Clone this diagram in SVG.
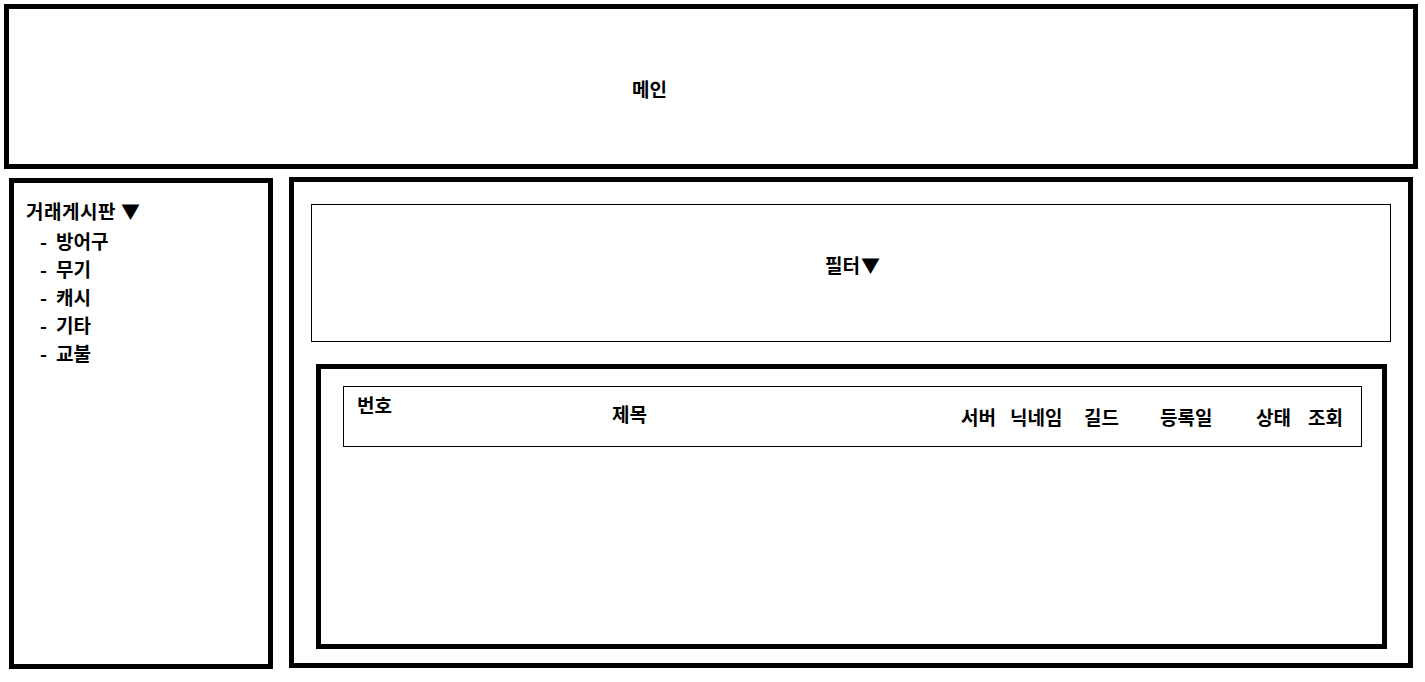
<svg xmlns="http://www.w3.org/2000/svg" width="1425" height="682" viewBox="0 0 1425 682">
<style>
.thick{fill:#fff;stroke:#000;stroke-width:5}
.thin{fill:#fff;stroke:#000;stroke-width:1}
text{font-family:"Noto Sans CJK KR","Liberation Sans",sans-serif;font-weight:bold;font-size:19px;fill:#000}
</style>
<rect width="1425" height="682" fill="#fff"/>
<g id="main-header">
<rect class="thick" x="6.5" y="6.5" width="1409" height="160"/>
<text x="632" y="97">메인</text>
</g>
<g id="sidebar">
<rect class="thick" x="11.5" y="180.5" width="259" height="486"/>
<text x="26" y="219" letter-spacing="0.5">거래게시판 <tspan x="121">▼</tspan></text>
<text x="40" y="249">- <tspan x="56">방어구</tspan></text>
<text x="40" y="277">- <tspan x="56">무기</tspan></text>
<text x="40" y="305">- <tspan x="56">캐시</tspan></text>
<text x="40" y="333">- <tspan x="56">기타</tspan></text>
<text x="40" y="361">- <tspan x="56">교불</tspan></text>
</g>
<g id="content">
<rect class="thick" x="291.5" y="179.5" width="1119" height="486"/>
</g>
<g id="filter">
<rect class="thin" x="311.5" y="204.5" width="1079" height="137"/>
<text x="825" y="273">필터<tspan x="861">▼</tspan></text>
</g>
<g id="list">
<rect class="thick" x="318.5" y="366.5" width="1066" height="280"/>
</g>
<g id="list-header">
<rect class="thin" x="343.5" y="386.5" width="1018" height="60"/>
<text x="357" y="413">번호</text>
<text x="612" y="422">제목</text>
<text x="961" y="425">서버</text>
<text x="1010" y="425">닉네임</text>
<text x="1084" y="425">길드</text>
<text x="1160" y="425">등록일</text>
<text x="1256" y="425">상태</text>
<text x="1308" y="425">조회</text>
</g>
<g id="connectors"></g>
</svg>
